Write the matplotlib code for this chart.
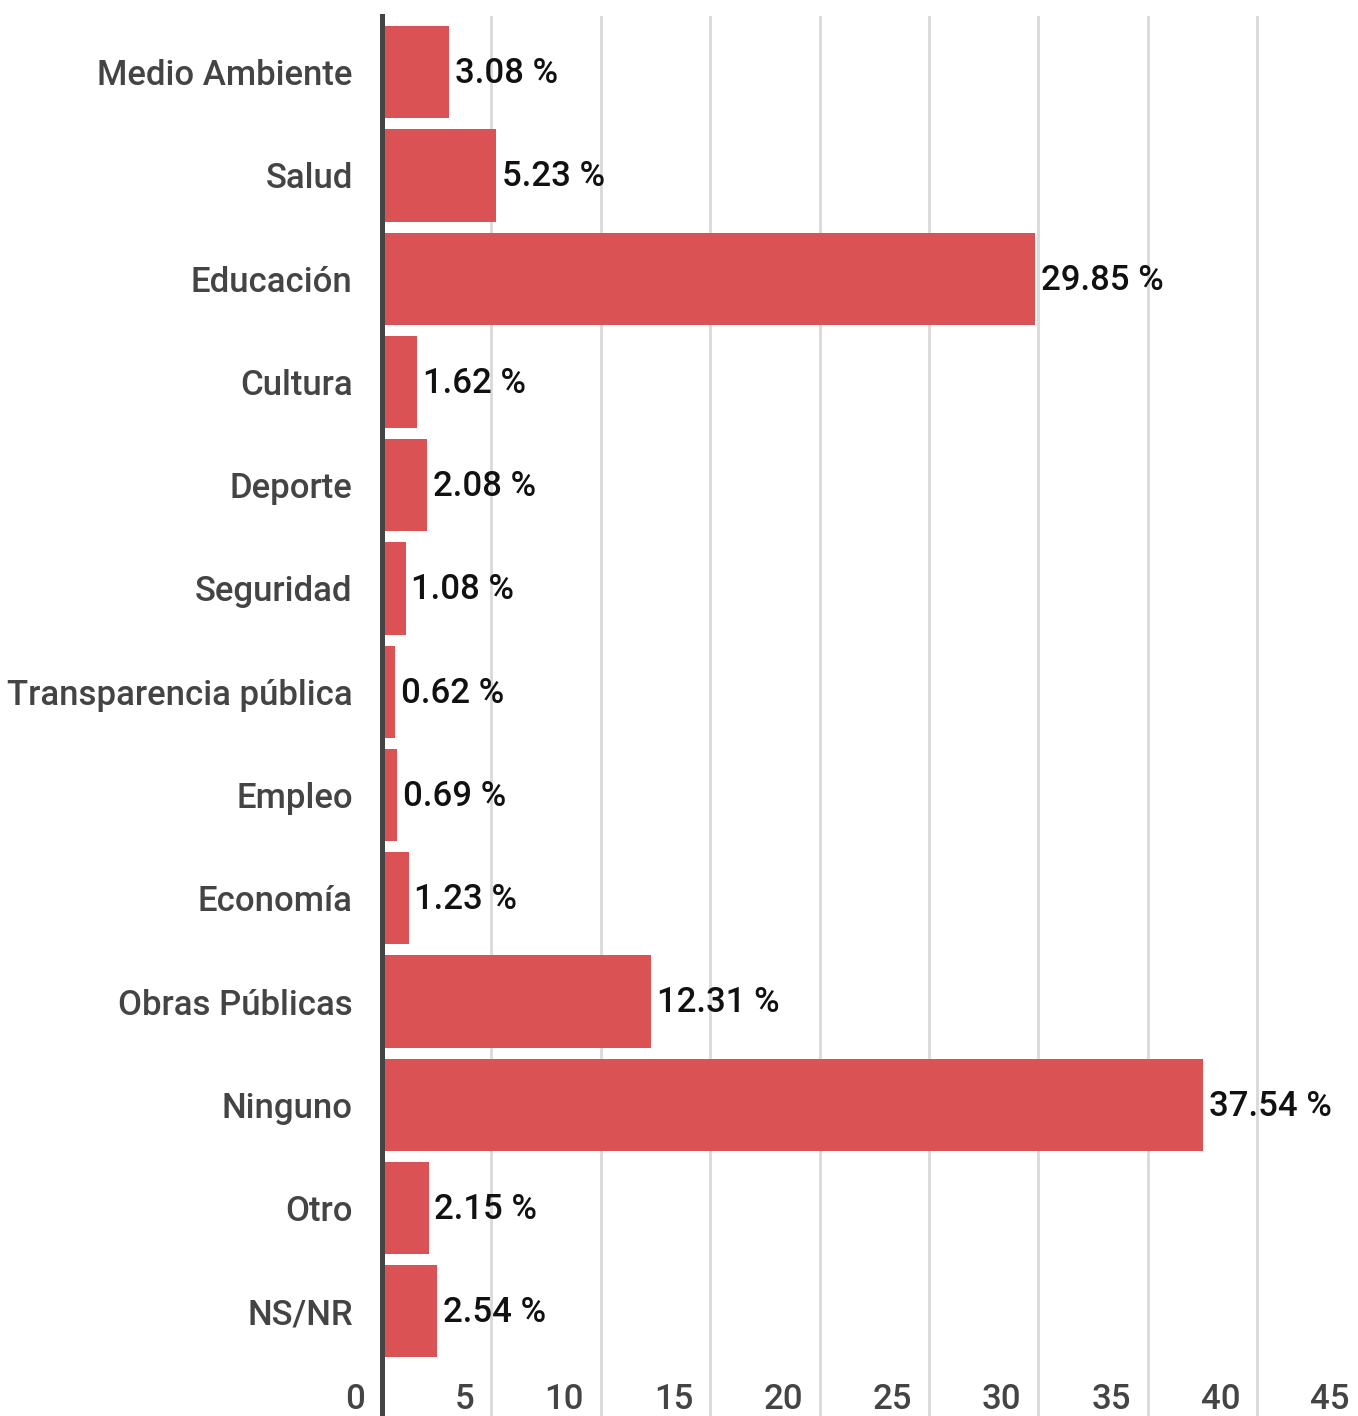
import matplotlib
matplotlib.use("Agg")
import matplotlib.pyplot as plt
import matplotlib.transforms as mtransforms

categories = ["Medio Ambiente", "Salud", "Educación", "Cultura", "Deporte", "Seguridad",
              "Transparencia pública", "Empleo", "Economía", "Obras Públicas", "Ninguno",
              "Otro", "NS/NR"]
values = [3.08, 5.23, 29.85, 1.62, 2.08, 1.08, 0.62, 0.69, 1.23, 12.31, 37.54, 2.15, 2.54]
xticks = [0, 5, 10, 15, 20, 25, 30, 35, 40, 45]

plt.rcParams['font.family'] = ['Roboto', 'DejaVu Sans']

W, H = 1358, 1416
fig = plt.figure(figsize=(W / 100, H / 100), dpi=100)
ax = fig.add_axes([381.9 / W, 0.0, 984.6 / W, 1 - 16 / H])

ypos = list(range(len(categories)))
ax.barh(ypos, values, height=0.894, color="#db5255", zorder=2)
ax.set_xlim(0, 45)
ax.set_ylim(13.014, -0.544)

for x in xticks[1:]:
    ax.axvline(x, color="#d9d9d9", lw=2.0, zorder=1)

for y, v in zip(ypos, values):
    ax.annotate(f"{v:.2f} %", xy=(v, y), xytext=(4, -1), textcoords="offset points",
                ha="left", va="center", fontsize=25, fontweight="medium", color="#111111", zorder=3)

ax.set_yticks(ypos)
ax.set_yticklabels(categories, fontsize=25, fontweight="medium", color="#444444")
ax.tick_params(axis="y", length=0, pad=21)
ax.set_xticks([])

trans = mtransforms.blended_transform_factory(ax.transData, ax.transAxes)
off = mtransforms.offset_copy(trans, fig=fig, x=-12, y=0, units="points")
for t in xticks:
    ax.text(t, 0.0, str(t), transform=off, ha="right", va="bottom",
            fontsize=25, fontweight="medium", color="#444444", zorder=3)

for s in ["top", "right", "bottom"]:
    ax.spines[s].set_visible(False)
ax.spines["left"].set_color("#444444")
ax.spines["left"].set_linewidth(3.6)
ax.spines["left"].set_zorder(4)

fig.savefig("out.png", dpi=100, facecolor="white")
